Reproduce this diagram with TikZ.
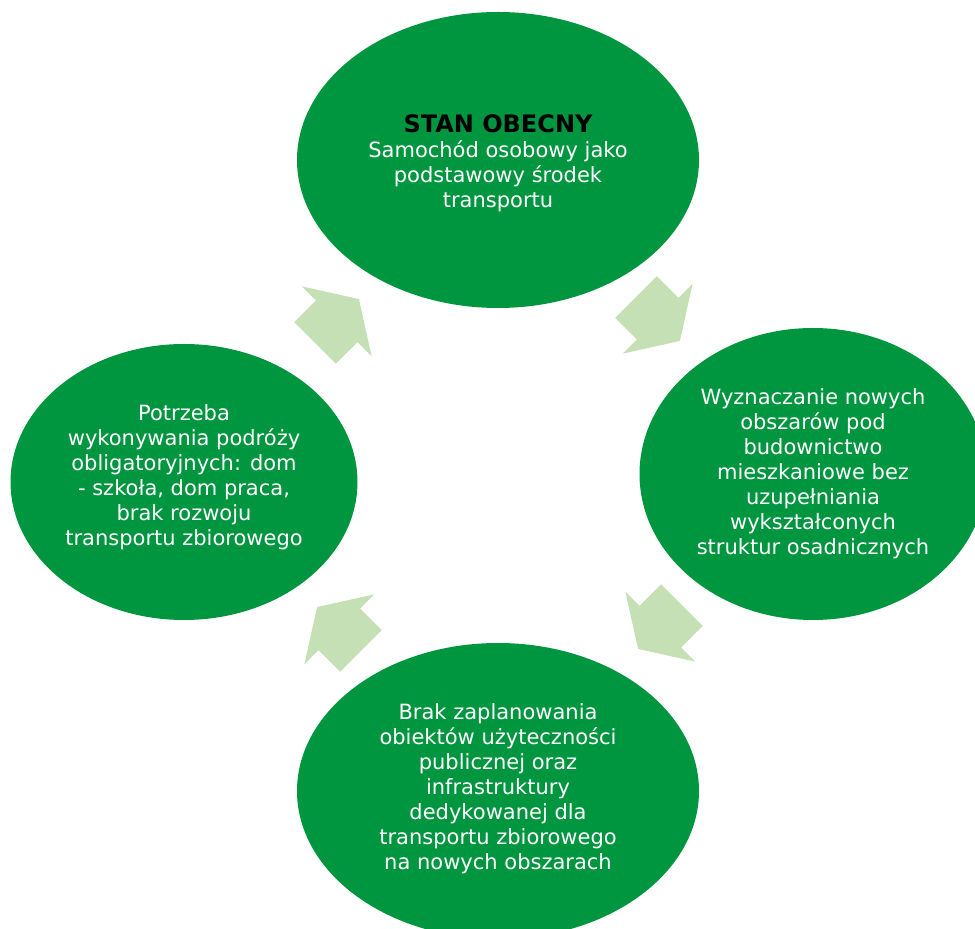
\documentclass[tikz,border=0pt]{standalone}
\usepackage{fontspec}
\setmainfont{DejaVu Sans}
\usetikzlibrary{shapes}
\definecolor{oval_green}{RGB}{0,150,64}
\definecolor{arrow_green}{RGB}{197,224,180}

\begin{document}
\begin{tikzpicture}[x=1pt,y=1pt]
    \tikzstyle{oval}=[ellipse, fill=oval_green, draw=none, inner sep=0pt]
    \tikzstyle{ovalwide}=[style=oval, minimum width=402pt, minimum height=296pt]
    \tikzstyle{ovalside}=[style=oval, minimum width=347pt]
    \tikzstyle{ovaltext}=[text=white, align=center, inner sep=0pt, font=\fontsize{21}{25}\selectfont]
    \tikzstyle{cyclearrow}=[fill=arrow_green, draw=none]

    \useasboundingbox (0,0) rectangle (975,929);

    \node[ovalwide]                     (now)    at (498,769) {};
    \node[ovalside, minimum height=292pt] (plots) at (813,455) {};
    \node[ovalwide]                     (infra)  at (498,138) {};
    \node[ovalside, minimum height=276pt] (trips) at (184,447) {};

    \foreach \x/\y/\ang in {337/608/45, 658/610/-45, 660/302/-135, 339/300/135}
      \fill[cyclearrow, shift={(\x,\y)}, rotate=\ang]
        (-31,-29.5) -- (-0.5,-29.5) -- (-0.5,-49.5) -- (31,0)
        -- (-0.5,49.5) -- (-0.5,29.5) -- (-31,29.5) -- cycle;

    \node[ovaltext, yshift=-3pt] (nowtext) at (now)
      {{\color{black}\fontsize{24}{28}\bfseries STAN OBECNY}\\
       Samochód osobowy jako\\ podstawowy środek\\ transportu};
    \node[ovaltext] (plotstext) at (plots)
      {Wyznaczanie nowych\\ obszarów pod\\ budownictwo\\ mieszkaniowe bez\\
       uzupełniania\\ wykształconych\\ struktur osadnicznych};
    \node[ovaltext, yshift=2pt] (infratext) at (infra)
      {Brak zaplanowania\\ obiektów użyteczności\\ publicznej oraz\\ infrastruktury\\
       dedykowanej dla\\ transportu zbiorowego\\ na nowych obszarach};
    \node[ovaltext, yshift=5pt] (tripstext) at (trips)
      {Potrzeba\\ wykonywania podróży\\ obligatoryjnych: dom\\ - szkoła, dom praca,\\
       brak rozwoju\\ transportu zbiorowego};
\end{tikzpicture}
\end{document}
